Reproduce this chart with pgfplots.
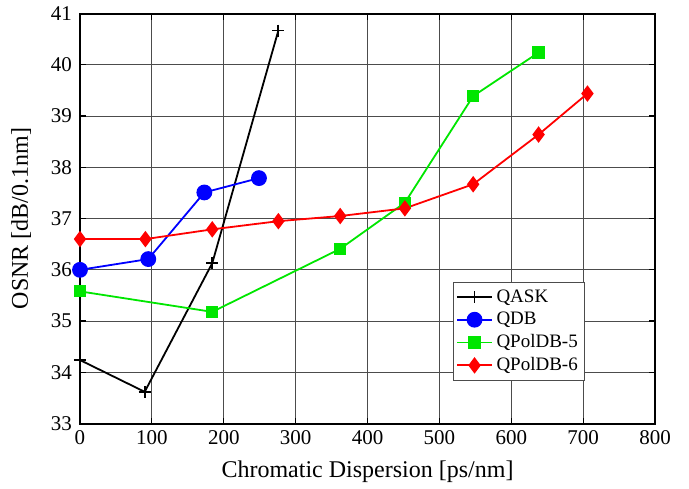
\documentclass[border=0pt]{standalone}
\usepackage{fontspec}
\setmainfont{Liberation Serif}
\usepackage{pgfplots}
\pgfplotsset{compat=1.18}
\begin{document}
\begin{tikzpicture}
\begin{axis}[
  scale only axis,
  width=287.5pt, height=205pt,
  xmin=0, xmax=800, ymin=33, ymax=41,
  xtick={0,100,...,800}, ytick={33,34,...,41},
  /pgf/number format/assume math mode=true,
  tick label style={font=\fontsize{10.5}{12}\selectfont},
  yticklabel style={xshift=-0.5pt},
  label style={font=\fontsize{12}{14}\selectfont},
  xlabel={Chromatic Dispersion [ps/nm]},
  ylabel={OSNR [dB/0.1nm]},
  ylabel shift=3pt,
  xlabel shift=1pt,
  grid=major,
  major grid style={draw=black!70, line width=0.5pt},
  axis line style={line width=1pt},
  tick style={black, line width=0.6pt},
  tick align=inside,
  major tick length=3pt,
  legend style={at={(0.649,0.345)}, anchor=north west, draw=black!70, line width=0.4pt,
    font=\fontsize{9.5}{10}\selectfont, inner sep=1.5pt, row sep=-0.6pt},
  legend cell align=left,
  every axis plot/.append style={line width=0.9pt},
]
\addplot[black, mark=+, mark size=3pt, mark options={line width=0.9pt}] coordinates {
  (0,34.24) (90,33.62) (184,36.13) (276,40.67)};
\addlegendentry{QASK}
\addplot[blue, mark=*, mark size=3.5pt, mark options={fill=blue}] coordinates {
  (0,36.0) (95,36.21) (173,37.51) (249,37.79)};
\addlegendentry{QDB}
\addplot[color={rgb,255:red,0;green,230;blue,0}, mark=square*, mark size=2.6pt] coordinates {
  (0,35.58) (184,35.18) (362,36.41) (452,37.31) (547,39.39) (638,40.24)};
\addlegendentry{QPolDB-5}
\addplot[red, mark=diamond*, mark size=3.4pt, mark options={fill=red}] coordinates {
  (0,36.6) (91,36.6) (184,36.79) (276,36.95) (362,37.05) (452,37.2) (547,37.67) (638,38.64) (706,39.44)};
\addlegendentry{QPolDB-6}
\end{axis}
\path (current axis.south west) ++(-40pt,-31.5pt);
\path (current axis.north east) ++(17pt,6pt);
\end{tikzpicture}
\end{document}
